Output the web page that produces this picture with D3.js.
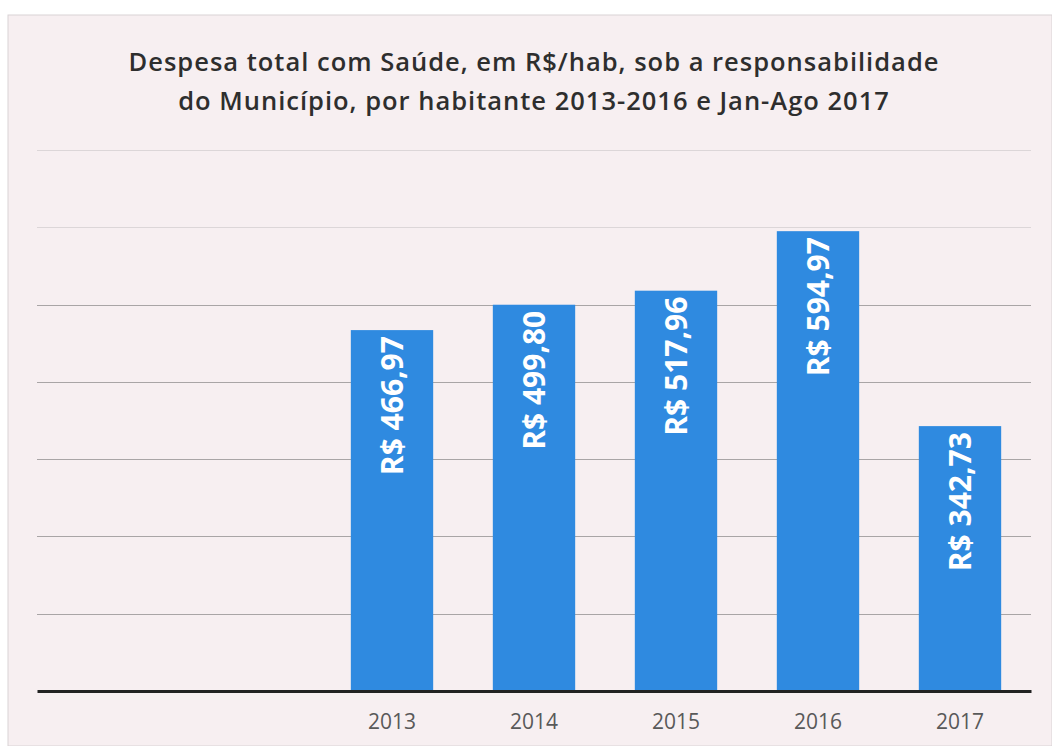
<!DOCTYPE html>
<html>
<head>
<meta charset="utf-8">
<script src="https://cdn.jsdelivr.net/npm/d3@7"></script>
<style>
  html, body { margin: 0; padding: 0; background: #ffffff; }
  svg { display: block; }
</style>
</head>
<body>
<div id="chart"></div>
<script>
// data
var categories = ["a", "b", "2013", "2014", "2015", "2016", "2017"];
var catLabels = ["", "", "2013", "2014", "2015", "2016", "2017"];
var values = [null, null, 466.97, 499.80, 517.96, 594.97, 342.73];
var valueLabels = ["", "", "R$ 466,97", "R$ 499,80", "R$ 517,96", "R$ 594,97", "R$ 342,73"];
var yTicks = [0, 100, 200, 300, 400, 500, 600, 700];
var titleLines = [
  "Despesa total com Saúde, em R$/hab, sob a responsabilidade",
  "do Município, por habitante 2013-2016 e Jan-Ago 2017"
];

var W = 1052, H = 746;
var margin = {top: 150, right: 21, bottom: 55, left: 37};

var svg = d3.select('#chart')
  .append('svg')
    .attr('width', W)
    .attr('height', H);

// paper background (scan)
svg.append('rect')
  .attr('x', 8).attr('y', 15)
  .attr('width', W - 8).attr('height', H - 15)
  .attr('fill', '#f7eff1')
  .attr('stroke', '#d9d3d5')
  .attr('stroke-width', 1);

var x = d3.scaleBand()
  .domain(categories)
  .range([margin.left, W - margin.right])
  .paddingInner(0.42)
  .paddingOuter(0.21);

var y = d3.scaleLinear()
  .domain([0, 700])
  .range([H - margin.bottom, margin.top]);

// gridlines
svg.append('g')
  .selectAll('line')
  .data(yTicks.slice(1))
  .enter()
    .append('line')
    .attr('x1', margin.left)
    .attr('x2', W - margin.right)
    .attr('y1', function(d){ return Math.round(y(d)) + 0.5; })
    .attr('y2', function(d){ return Math.round(y(d)) + 0.5; })
    .attr('stroke', function(d){ return d >= 600 ? '#dcd6d8' : '#a9a5a6'; })
    .attr('stroke-width', 1.2);

// bars
var rows = categories.map(function(c, i){
  return {cat: c, value: values[i], label: valueLabels[i]};
}).filter(function(d){ return d.value != null; });

svg.append('g')
  .selectAll('rect')
  .data(rows)
  .enter()
    .append('rect')
    .attr('x', function(d){ return x(d.cat); })
    .attr('y', function(d){ return y(d.value); })
    .attr('width', x.bandwidth())
    .attr('height', function(d){ return y(0) - y(d.value); })
    .attr('fill', '#2f8ae0');

// value labels, rotated inside bar top
svg.append('g')
  .selectAll('text')
  .data(rows)
  .enter()
    .append('text')
    .attr('transform', function(d){
      return 'translate(' + (x(d.cat) + x.bandwidth() / 2 + 11) + ',' + (y(d.value) + 6) + ') rotate(-90)';
    })
    .attr('text-anchor', 'end')
    .attr('fill', '#ffffff')
    .attr('font-family', 'Open Sans, sans-serif')
    .attr('font-weight', 'bold')
    .attr('font-size', 30)
    .text(function(d){ return d.label; });

// x axis
var xAxis = d3.axisBottom(x)
  .tickSize(0)
  .tickPadding(23)
  .tickFormat(function(d, i){ return catLabels[i]; });

var gx = svg.append('g')
  .attr('transform', 'translate(0,' + y(0) + ')')
  .call(xAxis);
gx.select('.domain')
  .attr('stroke', '#222')
  .attr('stroke-width', 3);
gx.selectAll('text')
  .attr('fill', '#595959')
  .attr('font-family', 'Open Sans, sans-serif')
  .attr('font-size', 21);

// title
svg.append('g')
  .selectAll('text')
  .data(titleLines)
  .enter()
    .append('text')
    .attr('x', 534)
    .attr('y', function(d, i){ return 71 + i * 39; })
    .attr('text-anchor', 'middle')
    .attr('fill', '#2e2e2e')
    .attr('font-family', 'Open Sans, sans-serif')
    .attr('font-weight', 600)
    .attr('font-size', 25.5)
    .attr('letter-spacing', 1.0)
    .text(function(d){ return d; });
</script>
</body>
</html>
